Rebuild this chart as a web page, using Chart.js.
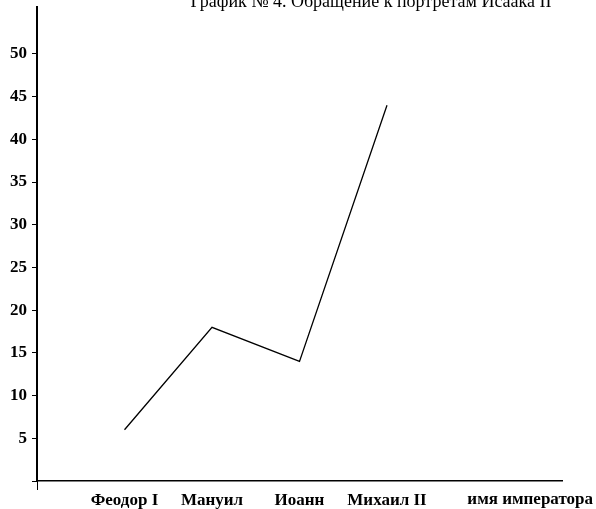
<!DOCTYPE html>
<html>
<head>
<meta charset="utf-8">
<script src="https://cdn.jsdelivr.net/npm/chart.js@4"></script>
<style>
  html, body { margin: 0; padding: 0; background: #fff; }
  #wrap { width: 596px; height: 509px; position: relative; }
</style>
</head>
<body>
<div id="wrap"><canvas id="grafik"></canvas></div>
<script>
// данные графика
const chartTitle = 'График № 4. Обращение к портретам Исаака II';
const axisName = 'имя императора';
const categories = ['', 'Феодор I', 'Мануил', 'Иоанн', 'Михаил II', '', ''];
const appeals = [null, 6, 18, 14, 44, null, null];
const yTicks = [5, 10, 15, 20, 25, 30, 35, 40, 45, 50];

const serif = '"Liberation Serif", "DejaVu Serif", serif';

// заголовок сверху (обрезан краем) и подпись оси справа
const textPlugin = {
    id: 'textPlugin',
    afterDraw(chart) {
        const ctx = chart.ctx;
        const xs = chart.scales.x;
        ctx.save();
        ctx.fillStyle = '#000';
        ctx.font = '18px ' + serif;
        ctx.textAlign = 'center';
        ctx.textBaseline = 'alphabetic';
        ctx.fillText(chartTitle, 371, 7);

        ctx.font = 'bold 17px ' + serif;
        ctx.textAlign = 'right';
        ctx.fillText(axisName, xs.right + 31, xs.top + 23);
        ctx.restore();
    }
};

new Chart(document.getElementById('grafik'), {
    type: 'line',
    data: {
        labels: categories,
        datasets: [{
            data: appeals,
            borderColor: '#000',
            borderWidth: 1.3,
            pointRadius: 0,
            tension: 0,
            fill: false
        }]
    },
    options: {
        responsive: true,
        maintainAspectRatio: false,
        animation: false,
        layout: { padding: { top: 0, right: 34, left: 0, bottom: 0 } },
        plugins: {
            legend: { display: false },
            tooltip: { enabled: false },
            title: { display: false }
        },
        scales: {
            x: {
                offset: false,
                afterFit(scale) { scale.height = 28; },
                border: { color: '#000', width: 1.6 },
                grid: {
                    drawOnChartArea: false,
                    tickLength: 9,
                    tickColor: c => c.index === 0 ? '#000' : 'rgba(0,0,0,0)'
                },
                ticks: {
                    color: '#000',
                    padding: 0,
                    autoSkip: false,
                    maxRotation: 0,
                    font: { family: serif, size: 17, weight: 'bold' }
                }
            },
            y: {
                min: 0,
                max: 55.5,
                afterFit(scale) {
                    scale.width = 37;
                    scale.paddingTop = 7;
                },
                border: { color: '#000', width: 2 },
                grid: {
                    drawOnChartArea: false,
                    tickLength: 5,
                    tickColor: c => (c.tick && c.tick.value <= 50) ? '#000' : 'rgba(0,0,0,0)'
                },
                ticks: {
                    stepSize: 5,
                    color: '#000',
                    padding: 5,
                    font: { family: serif, size: 17, weight: 'bold' },
                    callback: v => yTicks.includes(v) ? v : ''
                }
            }
        }
    },
    plugins: [textPlugin]
});
</script>
</body>
</html>
